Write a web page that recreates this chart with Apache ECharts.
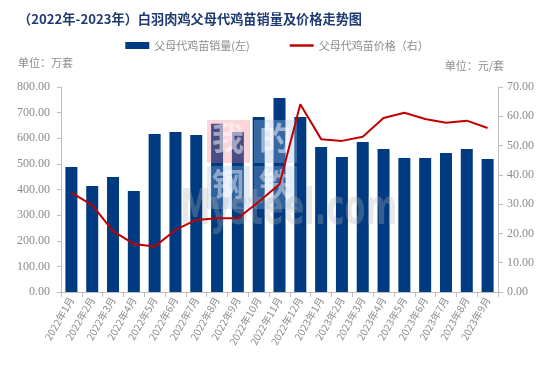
<!DOCTYPE html>
<html><head><meta charset="utf-8">
<script src="https://cdn.jsdelivr.net/npm/echarts@6/dist/echarts.min.js"></script>
<style>html,body{margin:0;padding:0;background:#fff}#c{width:554px;height:369px}</style>
</head><body><div id="c"></div>
<script>
var categories = ['2022年1月','2022年2月','2022年3月','2022年4月','2022年5月','2022年6月','2022年7月','2022年8月','2022年9月','2022年10月','2022年11月','2022年12月','2023年1月','2023年2月','2023年3月','2023年4月','2023年5月','2023年6月','2023年7月','2023年8月','2023年9月'];
var salesVolume = [488,414,449,394,617,624,613,657,624,683,757,683,566,527,585,558,523,523,542,558,519];
var salesPrice = [33.9,29.7,20.8,16.4,15.5,21.2,24.6,25.2,25.2,30.8,36.8,64.1,52.2,51.6,53.0,59.4,61.2,59.1,57.8,58.5,56.0];
var leftTicks = {min:0,max:800,interval:100};
var rightTicks = {min:0,max:70,interval:10};

var chart = echarts.init(document.getElementById('c'));
var axisTxt = {color:'#8c8c8c',fontFamily:'Liberation Serif',fontSize:12};
var wmFont = 'bold 32px "Noto Sans CJK SC"';
function wm(el){ el.z = 5; return el; }
chart.setOption({
  animation:false,
  title:{text:'（2022年-2023年）白羽肉鸡父母代鸡苗销量及价格走势图',left:13,top:7,
    textStyle:{color:'#1f3b73',fontSize:13.2,fontWeight:'bold',fontFamily:'Noto Sans CJK SC'}},
  legend:{top:35,left:'center',itemGap:40,itemWidth:24,itemHeight:7,
    textStyle:{color:'#8c8c8c',fontSize:11,fontFamily:'Noto Sans CJK SC'},
    data:[{name:'父母代鸡苗销量(左)',icon:'rect'},{name:'父母代鸡苗价格（右）',icon:'path://M0,0L24,0L24,2.5L0,2.5Z'}]},
  graphic:[
    {type:'text',left:18,top:57,style:{text:'单位：万套',fill:'#8c8c8c',font:'11px "Noto Sans CJK SC"'}},
    {type:'text',right:50,top:60,style:{text:'单位：元/套',fill:'#8c8c8c',font:'11px "Noto Sans CJK SC"'}},
    wm({type:'rect',shape:{x:207,y:120,width:43,height:43},style:{fill:'rgba(240,120,135,0.3)'}}),
    wm({type:'rect',shape:{x:254,y:120,width:43,height:43},style:{fill:'rgba(160,190,230,0.35)'}}),
    wm({type:'rect',shape:{x:207,y:166,width:43,height:43},style:{fill:'rgba(160,190,230,0.3)'}}),
    wm({type:'rect',shape:{x:254,y:166,width:43,height:43},style:{fill:'rgba(160,190,230,0.3)'}}),
    wm({type:'text',x:212,y:122,style:{text:'我',fill:'rgba(255,255,255,0.5)',font:wmFont}}),
    wm({type:'text',x:259,y:122,style:{text:'的',fill:'rgba(255,255,255,0.5)',font:wmFont}}),
    wm({type:'text',x:212,y:168,style:{text:'钢',fill:'rgba(255,255,255,0.45)',font:wmFont}}),
    wm({type:'text',x:259,y:168,style:{text:'铁',fill:'rgba(255,255,255,0.45)',font:wmFont}}),
    wm({type:'text',x:180,y:186,scaleX:0.61,style:{text:'Mysteel.com',fill:'rgba(180,180,180,0.3)',font:'bold 50px "DejaVu Sans"'}})
  ],
  grid:{left:61,right:56,top:87,bottom:77},
  xAxis:{type:'category',data:categories,
    axisLine:{lineStyle:{color:'#bfbfbf'}},
    axisTick:{show:true,alignWithLabel:false,lineStyle:{color:'#bfbfbf'}},
    axisLabel:{rotate:60,interval:0,color:'#8c8c8c',fontSize:10,fontFamily:'Noto Sans CJK SC',margin:6}},
  yAxis:[
    {type:'value',min:leftTicks.min,max:leftTicks.max,interval:leftTicks.interval,
      axisLine:{show:true,lineStyle:{color:'#bfbfbf'}},axisTick:{show:true,length:4,lineStyle:{color:'#bfbfbf'}},
      splitLine:{show:false},
      axisLabel:Object.assign({formatter:function(v){return v.toFixed(2);},margin:11},axisTxt)},
    {type:'value',min:rightTicks.min,max:rightTicks.max,interval:rightTicks.interval,
      axisLine:{show:true,lineStyle:{color:'#bfbfbf'}},axisTick:{show:true,lineStyle:{color:'#bfbfbf'}},
      splitLine:{show:false},
      axisLabel:Object.assign({formatter:function(v){return v.toFixed(2);},margin:9},axisTxt)}
  ],
  series:[
    {name:'父母代鸡苗销量(左)',type:'bar',data:salesVolume,barWidth:12,itemStyle:{color:'#003b82'},z:2},
    {name:'父母代鸡苗价格（右）',type:'line',yAxisIndex:1,data:salesPrice,symbol:'none',
      lineStyle:{color:'#c00000',width:2},itemStyle:{color:'#c00000'},z:10}
  ]
});
</script></body></html>
